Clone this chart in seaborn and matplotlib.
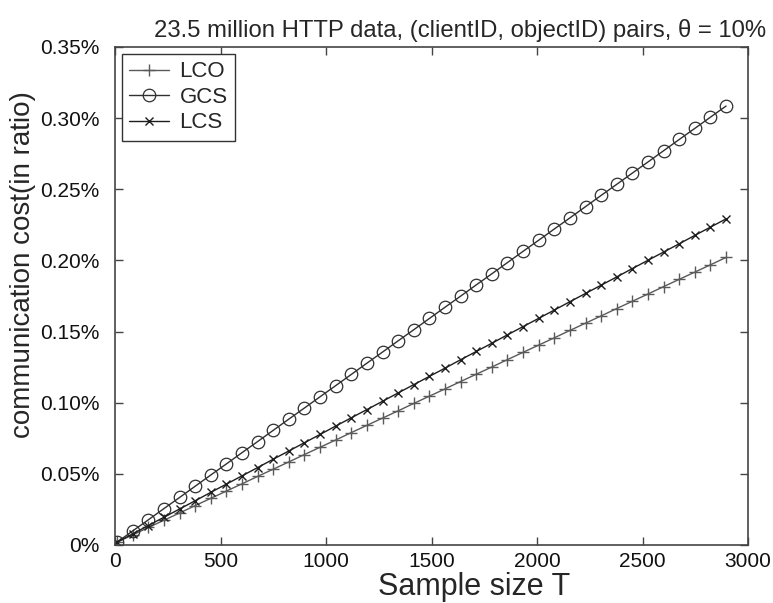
import matplotlib
matplotlib.use("Agg")
import matplotlib.pyplot as plt
import seaborn as sns
import pandas as pd
from matplotlib.ticker import FuncFormatter, MultipleLocator

sample_size = [10, 84, 158, 232, 306, 380, 454, 528, 602, 676,
               750, 824, 898, 972, 1046, 1120, 1194, 1268, 1342, 1416,
               1490, 1564, 1638, 1712, 1786, 1860, 1934, 2008, 2082, 2156,
               2230, 2304, 2378, 2452, 2526, 2600, 2674, 2748, 2822, 2896]

lco = [0.0020, 0.0071, 0.0123, 0.0174, 0.0225, 0.0277, 0.0328, 0.0379, 0.0430, 0.0482,
       0.0533, 0.0584, 0.0636, 0.0687, 0.0738, 0.0790, 0.0841, 0.0892, 0.0943, 0.0995,
       0.1046, 0.1097, 0.1149, 0.1200, 0.1251, 0.1303, 0.1354, 0.1405, 0.1456, 0.1508,
       0.1559, 0.1610, 0.1662, 0.1713, 0.1764, 0.1816, 0.1867, 0.1918, 0.1969, 0.2021]

gcs = [0.0020, 0.0099, 0.0177, 0.0256, 0.0334, 0.0413, 0.0492, 0.0570, 0.0649, 0.0727,
       0.0806, 0.0885, 0.0963, 0.1042, 0.1120, 0.1199, 0.1278, 0.1356, 0.1435, 0.1513,
       0.1592, 0.1671, 0.1749, 0.1828, 0.1906, 0.1985, 0.2064, 0.2142, 0.2221, 0.2299,
       0.2378, 0.2457, 0.2535, 0.2614, 0.2692, 0.2771, 0.2850, 0.2928, 0.3007, 0.3085]

lcs = [0.0020, 0.0078, 0.0137, 0.0195, 0.0253, 0.0311, 0.0370, 0.0428, 0.0486, 0.0544,
       0.0603, 0.0661, 0.0719, 0.0777, 0.0836, 0.0894, 0.0952, 0.1010, 0.1069, 0.1127,
       0.1185, 0.1243, 0.1302, 0.1360, 0.1418, 0.1477, 0.1535, 0.1593, 0.1651, 0.1710,
       0.1768, 0.1826, 0.1884, 0.1943, 0.2001, 0.2059, 0.2117, 0.2176, 0.2234, 0.2292]

series_names = ["LCO", "GCS", "LCS"]

sns.set_style("ticks")
plt.rcParams['font.family'] = ['Liberation Sans', 'DejaVu Sans']

fig = plt.figure(figsize=(7.73, 6.03), dpi=100)
ax = fig.add_axes([115 / 773, 58 / 603, 633 / 773, 498 / 603])

styles = {
    "LCO": dict(marker="+", color="#5a5a5a", markersize=9, mew=1.0),
    "GCS": dict(marker="o", color="#303030", markersize=9, mew=0.9),
    "LCS": dict(marker="x", color="#1e1e1e", markersize=6, mew=1.0),
}
for name, vals in zip(series_names, [lco, gcs, lcs]):
    df = pd.DataFrame({"x": sample_size, "y": vals})
    st = styles[name]
    sns.lineplot(data=df, x="x", y="y", ax=ax, color=st["color"], marker=st["marker"],
                 markersize=st["markersize"], markeredgewidth=st["mew"],
                 markerfacecolor="none", markeredgecolor=st["color"],
                 linewidth=1.0, label=name)

ax.set_xlim(0, 3000)
ax.set_ylim(0, 0.35)
ax.xaxis.set_major_locator(MultipleLocator(500))
ax.yaxis.set_major_locator(MultipleLocator(0.05))
ax.yaxis.set_major_formatter(FuncFormatter(lambda v, p: "0%" if abs(v) < 1e-9 else f"{v:.2f}%"))
ax.tick_params(direction="in", top=True, right=True, length=6, width=1, labelsize=15,
               color="#444444", labelcolor="#111111")
ax.tick_params(axis="y", pad=11)
ax.tick_params(axis="x", pad=5)
for s in ax.spines.values():
    s.set_color("#444444")
    s.set_linewidth(1.2)

ax.set_xlabel("Sample size T", fontsize=22)
ax.xaxis.set_label_coords(0.567, -0.054)
ax.set_ylabel("communication cost(in ratio)", fontsize=20)
ax.yaxis.set_label_coords(-0.125, 0.564)
ax.set_title("23.5 million HTTP data, (clientID, objectID) pairs, θ = 10%", fontsize=17.2, pad=7)
ax.title.set_position((0.545, 1.0))

leg = ax.legend(loc="upper left", fontsize=16, frameon=True, fancybox=False,
                borderaxespad=0.3, handlelength=1.8, labelspacing=0.2, borderpad=0.35,
                handletextpad=0.45)
leg.get_frame().set_edgecolor("#333333")
leg.get_frame().set_linewidth(1.0)
leg.get_frame().set_alpha(1)

fig.savefig("out.png", dpi=100)
